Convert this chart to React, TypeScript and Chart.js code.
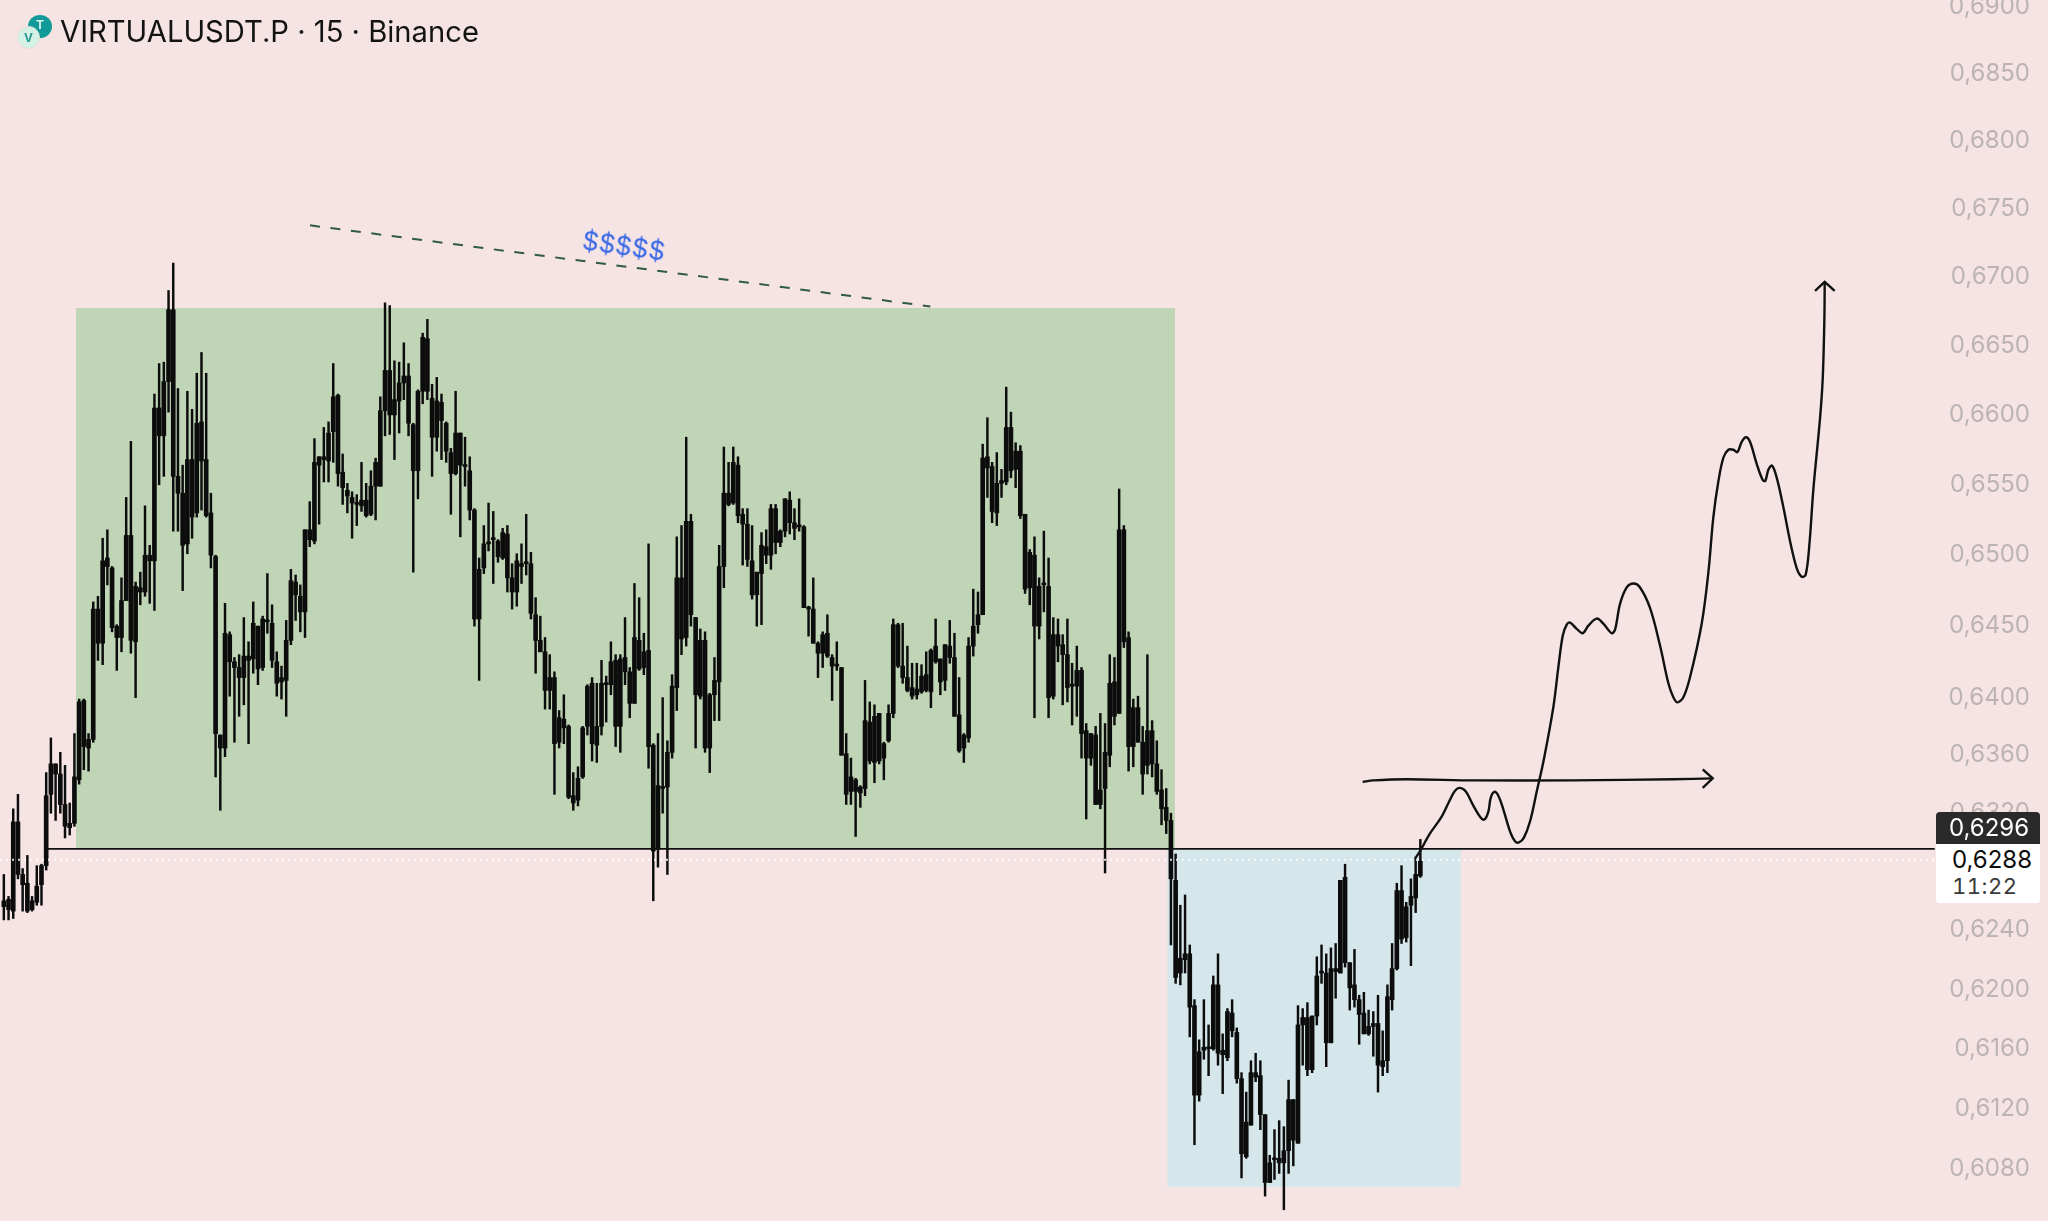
import React, { useEffect, useRef } from "react";
import { Chart, registerables } from "chart.js";

Chart.register(...registerables);

// all prices below are in ticks of 0.0001 USDT
const TICK = 10000;
const highs = [
6278,6263,6323,6333,6282,6291,6263,6284,6285,6348,
6372,6354,6362,6353,6327,6375,6399,6399,6375,6467,
6471,6512,6518,6492,6451,6484,6541,6581,6481,6488,
6535,6507,6615,6637,6638,6690,6710,6619,6564,6617,
6604,6630,6645,6630,6544,6500,6374,6466,6446,6428,
6430,6456,6439,6467,6450,6457,6487,6465,6432,6422,
6454,6490,6486,6479,6518,6538,6583,6570,6591,6595,
6637,6615,6572,6551,6545,6543,6566,6551,6560,6569,
6613,6681,6679,6639,6638,6652,6637,6594,6618,6659,
6669,6622,6627,6615,6595,6576,6617,6587,6584,6570,
6533,6498,6521,6537,6531,6511,6519,6521,6494,6501,
6508,6529,6502,6470,6457,6442,6430,6418,6391,6402,
6381,6348,6352,6380,6409,6414,6410,6426,6415,6439,
6430,6430,6456,6421,6480,6470,6445,6508,6368,6375,
6400,6370,6416,6513,6521,6584,6529,6456,6448,6446,
6403,6428,6507,6577,6566,6577,6570,6533,6533,6521,
6488,6516,6518,6536,6536,6518,6540,6545,6533,6540,
6521,6464,6484,6439,6446,6458,6430,6439,6421,6375,
6358,6344,6339,6412,6397,6395,6389,6369,6395,6455,
6452,6452,6436,6424,6424,6423,6432,6434,6455,6427,
6437,6454,6445,6414,6375,6442,6476,6474,6579,6598,
6566,6573,6561,6620,6602,6580,6578,6529,6504,6513,
6484,6517,6498,6456,6455,6444,6455,6424,6436,6421,
6382,6375,6380,6389,6382,6430,6428,6547,6521,6446,
6399,6401,6380,6430,6384,6370,6350,6337,
6320,6292,6257,6264,6230,6193,6166,6193,6176,6209,6224,6170,6187,6193,6174,6144,6131,6152,6157,6152,6116,6089,6106,6112,6108,6139,6126,6189,6187,6191,6182,6222,6230,6224,6228,6231,6274,6285,6218,6227,6196,6198,6186,6185,6196,6172,6203,6231,6272,6284,6259,6275,6290,6302,
];
const bodyTops = [
6260,6261,6314,6314,6278,6272,6260,6270,6284,6332,
6354,6354,6347,6326,6313,6345,6397,6398,6371,6462,
6462,6496,6498,6491,6450,6468,6514,6514,6478,6477,
6500,6500,6605,6605,6624,6676,6676,6556,6544,6568,
6568,6594,6595,6568,6530,6499,6374,6445,6444,6425,
6421,6429,6429,6452,6450,6455,6454,6452,6425,6414,
6440,6482,6481,6471,6518,6518,6566,6570,6570,6587,
6613,6614,6559,6546,6541,6537,6539,6539,6549,6566,
6603,6632,6632,6611,6623,6628,6628,6593,6617,6656,
6655,6612,6610,6609,6594,6573,6587,6587,6564,6560,
6532,6490,6508,6509,6511,6510,6516,6515,6484,6496,
6494,6494,6494,6458,6440,6432,6414,6414,6386,6385,
6380,6332,6344,6379,6408,6410,6380,6410,6409,6425,
6426,6427,6428,6418,6442,6440,6432,6433,6367,6339,
6338,6362,6408,6484,6484,6524,6524,6456,6440,6440,
6402,6412,6492,6544,6544,6566,6564,6529,6522,6496,
6488,6507,6506,6533,6533,6517,6540,6539,6523,6521,
6520,6463,6462,6438,6444,6445,6428,6423,6421,6361,
6345,6343,6338,6384,6383,6387,6389,6368,6389,6451,
6451,6422,6414,6407,6406,6415,6416,6433,6436,6427,
6437,6436,6428,6388,6374,6436,6450,6458,6569,6570,
6563,6551,6553,6591,6591,6574,6574,6529,6502,6500,
6478,6480,6478,6444,6444,6437,6430,6408,6419,6419,
6377,6375,6374,6336,6362,6410,6411,6518,6518,6442,
6393,6393,6369,6377,6377,6354,6336,6324,
6315,6274,6221,6224,6224,6189,6158,6161,6161,6203,6203,6159,6185,6184,6171,6140,6111,6144,6144,6142,6116,6084,6087,6087,6092,6126,6126,6176,6181,6181,6182,6209,6212,6211,6214,6214,6274,6276,6218,6203,6193,6184,6175,6177,6177,6152,6195,6214,6267,6267,6256,6263,6278,6287,
];
const bodyBottoms = [
6256,6254,6253,6278,6271,6253,6254,6259,6271,6284,
6333,6347,6326,6311,6310,6313,6343,6366,6365,6371,
6438,6438,6492,6449,6442,6442,6468,6440,6439,6474,
6474,6496,6496,6585,6585,6624,6556,6544,6507,6508,
6527,6530,6567,6528,6500,6375,6365,6365,6425,6421,
6414,6414,6426,6427,6420,6421,6453,6426,6410,6411,
6412,6440,6472,6460,6460,6511,6510,6564,6568,6567,
6588,6558,6548,6542,6537,6536,6535,6528,6529,6549,
6549,6603,6600,6600,6610,6623,6594,6560,6560,6617,
6617,6584,6584,6596,6574,6558,6558,6564,6563,6532,
6455,6455,6491,6508,6511,6499,6498,6484,6474,6474,
6492,6494,6459,6440,6432,6405,6405,6368,6369,6379,
6331,6327,6329,6345,6380,6368,6367,6380,6409,6409,
6380,6380,6418,6396,6396,6420,6421,6366,6294,6295,
6337,6338,6362,6407,6441,6442,6458,6402,6401,6365,
6365,6402,6411,6492,6536,6537,6528,6522,6497,6472,
6472,6487,6500,6500,6509,6509,6517,6523,6519,6520,
6463,6462,6438,6431,6431,6429,6422,6422,6360,6333,
6335,6335,6334,6337,6356,6355,6356,6358,6370,6389,
6422,6414,6405,6401,6402,6404,6405,6404,6425,6411,
6412,6428,6387,6363,6365,6372,6436,6451,6458,6562,
6531,6530,6551,6552,6560,6561,6528,6476,6477,6450,
6450,6479,6400,6401,6436,6430,6407,6408,6408,6375,
6358,6358,6326,6326,6337,6360,6387,6389,6439,6366,
6366,6369,6347,6353,6354,6335,6323,6315,
6275,6208,6211,6220,6188,6129,6129,6159,6160,6160,6157,6156,6154,6172,6140,6090,6088,6109,6141,6116,6071,6071,6086,6084,6084,6092,6099,6097,6176,6146,6146,6182,6211,6164,6164,6212,6211,6218,6201,6193,6183,6170,6170,6175,6149,6148,6152,6193,6214,6234,6235,6257,6262,6277,
];
const lows = [
6247,6247,6248,6275,6253,6252,6253,6257,6257,6281,
6320,6315,6320,6303,6305,6311,6340,6350,6349,6369,
6426,6423,6479,6446,6419,6432,6468,6431,6400,6465,
6471,6466,6461,6550,6556,6602,6517,6517,6475,6501,
6512,6527,6532,6527,6491,6345,6322,6359,6401,6369,
6387,6395,6368,6417,6409,6419,6445,6421,6401,6399,
6387,6437,6454,6446,6442,6506,6508,6522,6552,6552,
6566,6549,6536,6530,6512,6521,6531,6527,6528,6525,
6549,6585,6586,6568,6587,6611,6585,6488,6540,6608,
6611,6556,6574,6568,6566,6529,6557,6513,6549,6525,
6450,6412,6487,6503,6480,6495,6497,6474,6462,6464,
6480,6486,6455,6417,6432,6392,6392,6333,6365,6368,
6330,6322,6325,6344,6374,6356,6355,6374,6383,6402,
6366,6362,6409,6386,6396,6419,6416,6351,6260,6283,
6320,6278,6358,6391,6430,6436,6450,6365,6399,6362,
6348,6384,6384,6477,6535,6536,6523,6493,6492,6469,
6450,6451,6494,6490,6501,6506,6513,6515,6511,6517,
6463,6443,6438,6414,6421,6428,6398,6419,6360,6326,
6326,6304,6324,6332,6354,6341,6354,6343,6369,6386,
6421,6410,6404,6399,6399,6403,6404,6393,6424,6402,
6405,6424,6387,6362,6355,6369,6429,6445,6458,6541,
6523,6521,6541,6550,6555,6548,6526,6473,6465,6386,
6441,6460,6386,6399,6425,6395,6397,6381,6387,6358,
6316,6353,6326,6323,6279,6352,6381,6389,6435,6349,
6352,6369,6333,6347,6345,6333,6312,6306,
6230,6204,6203,6211,6168,6096,6125,6153,6142,6159,6149,6130,6152,6168,6137,6074,6087,6109,6138,6106,6062,6071,6073,6077,6053,6077,6082,6097,6149,6142,6144,6176,6204,6148,6164,6194,6211,6215,6186,6188,6163,6170,6169,6155,6131,6142,6144,6186,6213,6231,6232,6216,6252,6276,
];

// the drawn projection, in candle index and price ticks
const curveX = [300.08,300.93,303.05,305.53,307.3,308.37,309.43,310.7,312.26,313.68,314.6,315.45,315.95,316.72,317.57,318.64,320.05,321.12,321.97,323.03,324.3,325.72,327.28,329.26,330.32,331.25,332.1,332.8,334.22,335.5,336.7,338.47,339.89,341.66,342.37,343.43,344.85,346.26,347.68,349.8,351.93,353.7,354.76,355.61,356.89,358.3,360.78,362.2,363.26,364.32,365.39,366.45,367.51,368.36,369.28,370.2,371.05,372.47,373.75,374.31,374.95,375.73,376.72,378.14,379.55,380.97,382.03,382.88,383.66,384.51,385.93,386.5,386.85,386.92];
const curveY = [6289.8,6293.9,6306.1,6317.6,6329.3,6335.5,6337.4,6334.7,6325.2,6317.6,6315.6,6321.1,6330.6,6334.7,6332,6322.5,6307.5,6300.7,6299.9,6303.4,6314.3,6334.7,6357.8,6393.4,6421.1,6443.3,6451.1,6452.5,6448.1,6445,6450.3,6455.3,6451.7,6445,6447.5,6465.6,6477.2,6480,6477.2,6462.8,6436.4,6410,6400.3,6396.7,6400.3,6414.2,6451.7,6487.8,6527,6552.3,6569.3,6575,6575,6573.3,6580.7,6584,6580.7,6565,6553.4,6552.8,6560.8,6563.6,6555.1,6534,6510.1,6490.9,6484.8,6486.2,6507.3,6546.6,6597.7,6626.1,6669,6696.3];
const curveHeadX = [384.87,386.92,389.04];
const curveHeadY = [6689.7,6696.3,6689.7];
const levelArrowX = [288.75,291,298.1,312.26,333.5,354.76,363.12];
const levelArrowY = [6341.5,6342.6,6343.4,6342.6,6342.6,6343.4,6344];
const levelHeadX = [361,363.12,361];
const levelHeadY = [6350.2,6344,6337.4];
const trendX = [65.06,196.87];
const trendY = [6737.6,6678.4];
const rangeZoneX = [15.34,248.87];
const rangeZoneY = [6677.3,6295.5];
const dipZoneX = [247.2,309.6];
const dipZoneY = [6295,6068];
const lastPriceLine = { x: [9.17,410.3], y: 6295.5 };
const markPriceLine = { x: [-0.81,410.3], y: 6288 };

const tickValues = [6900,6850,6800,6750,6700,6650,6600,6550,6500,6450,6400,6360,6320,6240,6200,6160,6120,6080];
const titleText = "VIRTUALUSDT.P · 15 · Binance";
const tagLast = "0,6296";
const tagMark = "0,6288";
const tagTimer = "11:22";
const noteText = "$$$$$";

const px = (xs: number[], ys: number[]) => xs.map((x, i) => ({ x, y: ys[i] / TICK }));
const flat = (xs: number[], y: number) => xs.map((x) => ({ x, y: y / TICK }));
const lineSet = (data: any[], extra: any) => ({
  type: "line",
  data,
  pointRadius: 0,
  borderColor: "#111111",
  borderWidth: 2.4,
  tension: 0,
  fill: false,
  order: 1,
  ...extra,
});
const zoneSet = (xs: number[], ys: number[], color: string) => ({
  type: "line",
  data: flat(xs, ys[0]),
  pointRadius: 0,
  borderWidth: 0,
  backgroundColor: color,
  fill: { value: ys[1] / TICK },
  order: 10,
});

export default function App() {
  const ref = useRef<HTMLCanvasElement>(null);
  useEffect(() => {
    const chart = new Chart(ref.current as HTMLCanvasElement, {
      data: {
        datasets: [
          zoneSet(rangeZoneX, rangeZoneY, "#bfd5b6"),
          zoneSet(dipZoneX, dipZoneY, "#d5e7ea"),
          {
            type: "bar",
            data: highs.map((h, i) => ({ x: i, y: [lows[i] / TICK, h / TICK] })),
            backgroundColor: "#0c0c0c",
            barThickness: 1.8,
            grouped: false,
            order: 5,
          },
          {
            type: "bar",
            data: bodyTops.map((t, i) => ({ x: i, y: [bodyBottoms[i] / TICK, t / TICK] })),
            backgroundColor: "#0c0c0c",
            barThickness: 4,
            minBarLength: 2,
            grouped: false,
            order: 4,
          },
          lineSet(flat(lastPriceLine.x, lastPriceLine.y), { borderWidth: 1.6, borderColor: "#101010", order: 2 }),
          lineSet(flat(markPriceLine.x, markPriceLine.y), { borderWidth: 2, borderColor: "rgba(255,255,255,0.85)", borderDash: [2, 4], order: 3 }),
          lineSet(px(trendX, trendY), { borderColor: "#2f5a44", borderDash: [10, 10.6], borderWidth: 2 }),
          lineSet(px(curveX, curveY), { tension: 0.35 }),
          lineSet(px(curveHeadX, curveHeadY), {}),
          lineSet(px(levelArrowX, levelArrowY), { tension: 0.3 }),
          lineSet(px(levelHeadX, levelHeadY), {}),
        ] as any,
      },
      options: {
        responsive: false,
        animation: false,
        devicePixelRatio: 1,
        layout: { padding: 0 },
        plugins: { legend: { display: false }, tooltip: { enabled: false } },
        scales: {
          x: { type: "linear", display: false, min: -0.814, max: 434.37, offset: false },
          y: {
            type: "logarithmic",
            position: "right",
            min: 0.60456,
            max: 0.69049,
            grid: { display: false, drawTicks: false },
            border: { display: false },
            afterBuildTicks: (s: any) => {
              s.ticks = tickValues.map((v) => ({ value: v / TICK }));
            },
            afterFit: (s: any) => {
              s.width = 0;
              s.paddingTop = 0;
              s.paddingBottom = 0;
              s.paddingLeft = 0;
              s.paddingRight = 0;
            },
            ticks: {
              mirror: true,
              padding: -18,
              autoSkip: false,
              color: "#bcb4b4",
              font: { family: "Inter", size: 24 },
              callback: (v: any) => Number(v).toFixed(4).replace(".", ","),
            },
          },
        },
      } as any,
    });
    return () => chart.destroy();
  }, []);

  const abs: React.CSSProperties = { position: "absolute" };
  return (
    <div style={{ ...abs, left: 0, top: 0, width: 2048, height: 1221, background: "#f6e4e5", overflow: "hidden", fontFamily: "Inter" }}>
      <canvas ref={ref} width={2048} height={1221} style={{ ...abs, left: 0, top: 0, width: 2048, height: 1221 }} />
      <div style={{ ...abs, left: 28, top: 15, width: 24, height: 23, borderRadius: "50%", background: "#119a98", color: "#d9f3ef", fontSize: 12, fontWeight: 700, textAlign: "center", lineHeight: "20px" }}>T</div>
      <div style={{ ...abs, left: 17, top: 26, width: 21, height: 21, borderRadius: "50%", background: "#d4f1e6", border: "1px solid #e8dcd6", color: "#2a9a92", fontSize: 12, fontWeight: 700, textAlign: "center", lineHeight: "21px" }}>V</div>
      <div style={{ ...abs, left: 60, top: 14, fontSize: 29.2, lineHeight: "36px", color: "#131313", whiteSpace: "nowrap" }}>{titleText}</div>
      <div style={{ ...abs, left: 582, top: 230, fontSize: 26, lineHeight: "32px", color: "#3566e6", transform: "rotate(8deg)", whiteSpace: "nowrap" }}>{noteText}</div>
      <div style={{ ...abs, left: 1936, top: 812, width: 104, height: 32, background: "#2a2a2a", borderRadius: "4px 4px 0 0", color: "#ffffff", fontSize: 24, lineHeight: "32px", textAlign: "center", boxSizing: "border-box", paddingLeft: 2 }}>{tagLast}</div>
      <div style={{ ...abs, left: 1936, top: 844, width: 104, height: 59, background: "#ffffff", borderRadius: "0 0 4px 4px" }} />
      <div style={{ ...abs, left: 1952, top: 846, fontSize: 24, lineHeight: "28px", color: "#0e0e0e" }}>{tagMark}</div>
      <div style={{ ...abs, left: 1952, top: 873, fontSize: 22, lineHeight: "26px", color: "#3a3a3a", fontVariantNumeric: "tabular-nums", letterSpacing: 0.5 }}>{tagTimer}</div>
    </div>
  );
}
